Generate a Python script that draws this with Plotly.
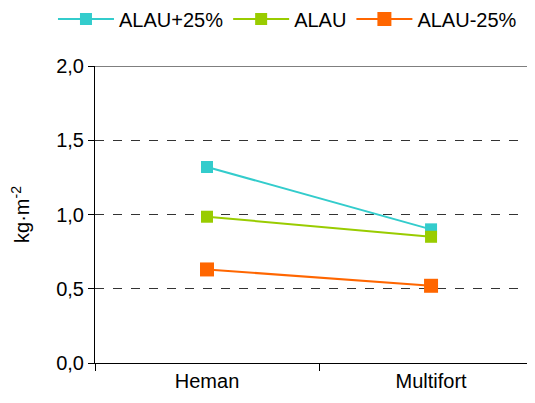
import plotly.graph_objects as go

categories = ["Heman", "Multifort"]
series_names = ["ALAU+25%", "ALAU", "ALAU-25%"]
alau_plus = [1.32, 0.90]
alau = [0.985, 0.85]
alau_minus = [0.63, 0.52]
colors = ["#33CCCC", "#99CC00", "#FF6600"]
marker_sizes = [12, 12, 14]
y_ticks = [0, 0.5, 1.0, 1.5, 2.0]

fig = go.Figure()
for name, vals, c, s in zip(series_names, [alau_plus, alau, alau_minus], colors, marker_sizes):
    fig.add_trace(go.Scatter(
        x=categories, y=vals, name=name, mode="lines+markers",
        line=dict(color=c, width=2),
        marker=dict(symbol="square", size=s, color=c),
    ))

font = "Liberation Sans, Arial, sans-serif"
fig.update_layout(
    width=527, height=395,
    margin=dict(l=87, r=0, t=58, b=40, autoexpand=False),
    paper_bgcolor="white", plot_bgcolor="white",
    separators=",.",
    font=dict(family=font, size=20, color="black"),
    showlegend=True,
    legend=dict(orientation="h", xref="paper", yref="paper",
                x=-0.0955, y=1.158, xanchor="left", yanchor="middle",
                itemwidth=56,
                font=dict(size=20), traceorder="normal"),
    xaxis=dict(type="category", range=[-0.5, 1.464], tickson="boundaries",
               ticks="outside", ticklen=7, tickcolor="black",
               showline=True, linecolor="black", linewidth=1,
               showgrid=False, zeroline=False, tickfont=dict(size=20)),
    yaxis=dict(range=[0, 2], tickvals=y_ticks, tickformat=".1f",
               ticks="outside", ticklen=6, tickcolor="black",
               showline=True, linecolor="black", linewidth=1,
               showgrid=True, gridcolor="#333", griddash="dash", gridwidth=1,
               zeroline=False, tickfont=dict(size=20),
               title=dict(text="kg·m<sup>-2</sup>", font=dict(size=20), standoff=23)),
)
fig.add_hline(y=2.0, line=dict(color="black", width=1))
fig.write_html("out.html")
